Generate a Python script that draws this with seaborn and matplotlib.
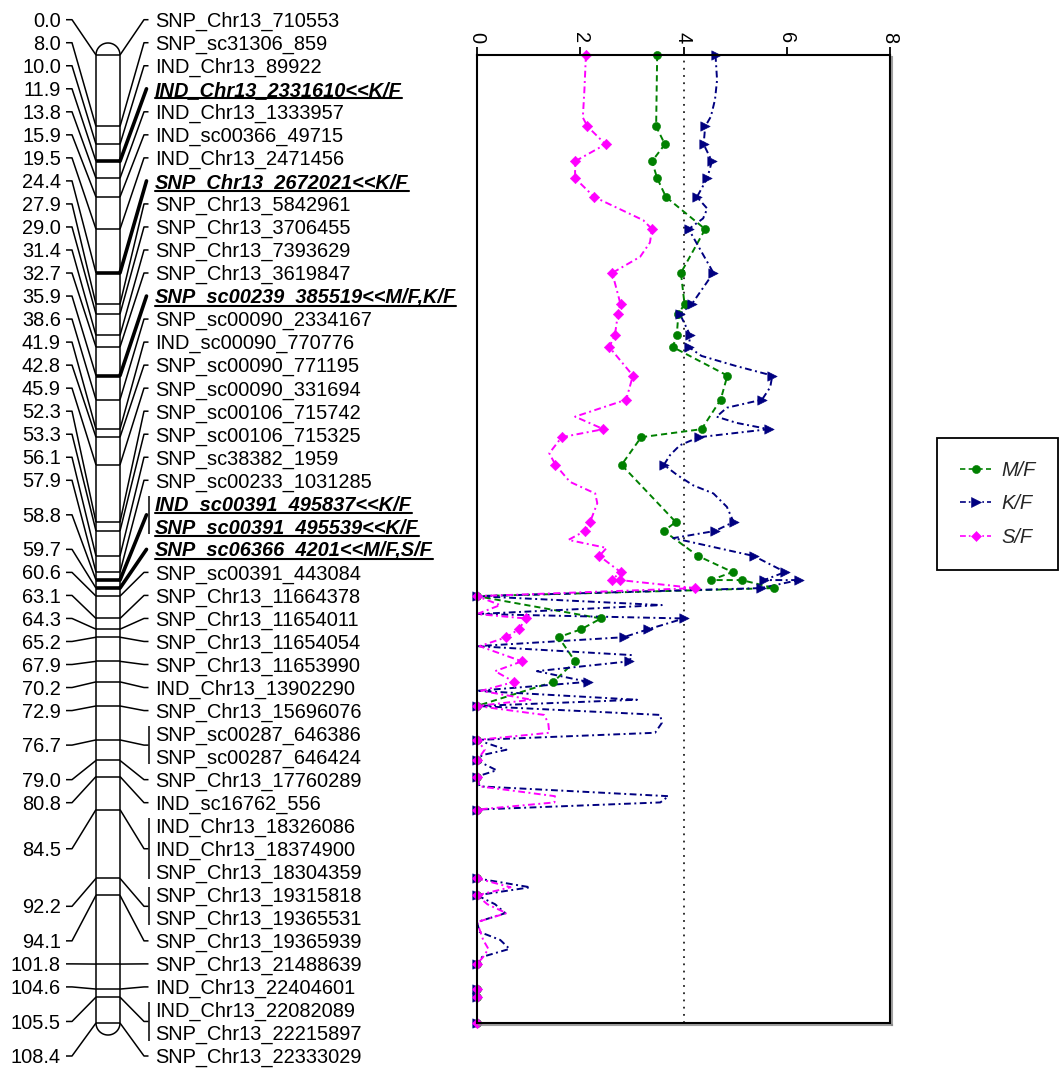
import numpy as np
import pandas as pd
import matplotlib
matplotlib.use("Agg")
import matplotlib.pyplot as plt
import seaborn as sns
from matplotlib.lines import Line2D
from matplotlib import patheffects as pe

# ---- linkage group: markers from top to bottom and their map positions (cM)
marker_names = [
    "SNP_Chr13_710553", "SNP_sc31306_859", "IND_Chr13_89922",
    "IND_Chr13_2331610<<K/F", "IND_Chr13_1333957", "IND_sc00366_49715",
    "IND_Chr13_2471456", "SNP_Chr13_2672021<<K/F", "SNP_Chr13_5842961",
    "SNP_Chr13_3706455", "SNP_Chr13_7393629", "SNP_Chr13_3619847",
    "SNP_sc00239_385519<<M/F,K/F", "SNP_sc00090_2334167", "IND_sc00090_770776",
    "SNP_sc00090_771195", "SNP_sc00090_331694", "SNP_sc00106_715742",
    "SNP_sc00106_715325", "SNP_sc38382_1959", "SNP_sc00233_1031285",
    "IND_sc00391_495837<<K/F", "SNP_sc00391_495539<<K/F",
    "SNP_sc06366_4201<<M/F,S/F", "SNP_sc00391_443084", "SNP_Chr13_11664378",
    "SNP_Chr13_11654011", "SNP_Chr13_11654054", "SNP_Chr13_11653990",
    "IND_Chr13_13902290", "SNP_Chr13_15696076", "SNP_sc00287_646386",
    "SNP_sc00287_646424", "SNP_Chr13_17760289", "IND_sc16762_556",
    "IND_Chr13_18326086", "IND_Chr13_18374900", "SNP_Chr13_18304359",
    "SNP_Chr13_19315818", "SNP_Chr13_19365531", "SNP_Chr13_19365939",
    "SNP_Chr13_21488639", "IND_Chr13_22404601", "IND_Chr13_22082089",
    "SNP_Chr13_22215897", "SNP_Chr13_22333029",
]
marker_cm = [
    0.0, 8.0, 10.0, 11.9, 13.8, 15.9, 19.5, 24.4, 27.9, 29.0, 31.4, 32.7,
    35.9, 38.6, 41.9, 42.8, 45.9, 52.3, 53.3, 56.1, 57.9, 58.8, 58.8, 59.7,
    60.6, 63.1, 64.3, 65.2, 67.9, 70.2, 72.9, 76.7, 76.7, 79.0, 80.8, 84.5,
    84.5, 84.5, 92.2, 92.2, 94.1, 101.8, 104.6, 105.5, 105.5, 108.4,
]

# ---- LOD profiles along the linkage group
mf_cm = [0.0, 8.0, 10.0, 11.9, 13.8, 15.9, 19.5, 24.4, 27.9, 29.0, 31.4, 32.7,
         35.9, 38.6, 41.9, 42.8, 45.9, 52.3, 53.3, 56.1, 57.9, 58.8, 58.8, 59.7,
         60.6, 63.1, 64.3, 65.2, 67.9, 70.2, 72.9, 76.7, 79.0, 80.8, 84.5,
         92.2, 94.1, 101.8, 104.6, 105.5, 108.4]
mf_lod = [3.49, 3.47, 3.64, 3.39, 3.49, 3.66, 4.42, 3.95, 4.02, 3.90, 3.87, 3.79,
          4.85, 4.72, 4.35, 3.18, 2.80, 3.85, 3.62, 4.28, 4.95, 4.53, 5.13, 5.76,
          0.0, 2.40, 2.02, 1.58, 1.90, 1.48, 0.0, 0.0, 0.0, 0.0, 0.0,
          0.0, 0.0, 0.0, 0.0, 0.0, 0.0]

kf_cm = [0.0, 2.8, 5.0, 6.9, 8.0, 10.0, 11.9, 13.8, 15.9, 17.2, 18.3, 19.5,
         24.4, 27.9, 29.0, 31.4, 32.7, 33.7, 34.8, 35.9, 37.2, 38.6, 39.5, 40.5,
         41.2, 41.9, 42.8, 43.7, 44.8, 45.9, 47.0, 48.2, 49.1, 50.6, 52.3, 53.3,
         54.1, 56.1, 57.9, 58.8, 58.8, 59.7, 60.6, 61.6, 62.6, 63.1, 64.3, 65.2,
         66.2, 67.2, 67.9, 69.0, 70.2, 71.2, 72.2, 72.9, 73.9, 74.8, 75.9, 76.7,
         77.8, 78.4, 79.0, 80.1, 80.8, 81.9, 83.0, 83.7, 84.5, 92.2, 93.2, 94.1,
         95.1, 96.1, 97.1, 98.2, 99.1, 100.1, 101.0, 101.8, 104.6, 105.5, 108.4]
kf_lod = [4.62, 4.65, 4.61, 4.53, 4.42, 4.39, 4.55, 4.46, 4.26, 4.46, 4.38, 4.10,
          4.58, 4.16, 3.93, 4.13, 4.10, 4.35, 5.00, 5.72, 5.68, 5.52, 4.84, 4.64,
          5.03, 5.65, 4.30, 3.93, 3.74, 3.62, 3.87, 4.19, 4.58, 4.84, 4.97, 4.61,
          3.80, 5.36, 5.97, 5.56, 6.23, 5.50, 0.0, 3.58, 0.0, 4.01, 3.32, 2.84,
          0.0, 3.00, 2.95, 1.16, 2.15, 0.0, 3.10, 0.0, 3.55, 3.58, 3.45, 0.0,
          0.57, 0.10, 0.0, 0.38, 0.0, 0.05, 3.71, 3.55, 0.0, 0.0, 1.03, 0.0,
          0.35, 0.55, 0.0, 0.05, 0.45, 0.63, 0.10, 0.0, 0.0, 0.0, 0.0]

sf_cm = [0.0, 4.0, 7.0, 8.0, 10.0, 11.9, 13.8, 15.9, 18.5, 19.5, 21.0, 22.6,
         24.4, 27.9, 29.0, 31.4, 32.7, 35.9, 38.6, 40.5, 41.9, 42.8, 44.6, 45.9,
         47.8, 49.1, 50.2, 52.3, 53.3, 54.3, 55.2, 56.1, 57.9, 58.8, 58.8, 59.7,
         60.6, 61.6, 62.6, 63.1, 64.3, 65.2, 66.2, 67.9, 69.0, 70.2, 71.2, 72.2,
         72.9, 73.9, 74.8, 75.9, 76.7, 77.8, 79.0, 80.8, 81.9, 83.0, 83.7, 84.5,
         92.2, 93.2, 94.1, 95.1, 96.1, 97.1, 99.1, 100.1, 101.0, 101.8, 104.6,
         105.5, 108.4]
sf_lod = [2.11, 2.08, 2.05, 2.14, 2.49, 1.90, 1.90, 2.27, 3.22, 3.39, 3.35, 3.16,
          2.62, 2.78, 2.73, 2.67, 2.56, 3.02, 2.89, 1.90, 2.45, 1.64, 1.40, 1.52,
          1.80, 2.29, 2.33, 2.19, 2.09, 1.77, 2.51, 2.37, 2.78, 2.61, 2.77, 4.23,
          0.0, 0.45, 0.0, 0.95, 0.81, 0.57, 0.05, 0.87, 0.35, 0.72, 0.08, 1.06,
          0.0, 1.30, 1.38, 1.40, 0.0, 0.15, 0.0, 0.0, 0.05, 1.51, 1.50, 0.0,
          0.0, 0.65, 0.0, 0.20, 0.57, 0.0, 0.12, 0.22, 0.12, 0.0, 0.0,
          0.0, 0.0]

series_names = ["M/F", "K/F", "S/F"]
lod_ticks = [0, 2, 4, 6, 8]
lod_threshold = 4.0

# ---- styling
sns.set_theme(style="white")
plt.rcParams["font.family"] = ["Liberation Sans", "DejaVu Sans"]
plt.rcParams["axes.unicode_minus"] = False
FS = 14.4
LW = 1.1

series_style = {
    "M/F": dict(color="#008000", ls=(0, (3.2, 2.0)), marker="o", s=34),
    "K/F": dict(color="#000080", ls=(0, (3.5, 1.8, 1, 1.8)), marker=">", s=46),
    "S/F": dict(color="#FF00FF", ls=(0, (3.5, 1.8, 1, 1.8)), marker="D", s=28),
}

W, H = 1062, 1068
fig = plt.figure(figsize=(W / 100, H / 100), dpi=100)

map_top_px, map_bot_px = 55, 1023
y_max = max(marker_cm)
px_per_cm = (map_bot_px - map_top_px) / y_max
ax_bottom = 1 - map_bot_px / H
ax_height = (map_bot_px - map_top_px) / H

ax_lod = fig.add_axes([477 / W, ax_bottom, (890 - 477) / W, ax_height])
ax_map = fig.add_axes([0, ax_bottom, 470 / W, ax_height])
ax_map.set_xlim(0, 470)
for ax in (ax_lod, ax_map):
    ax.set_ylim(y_max, 0)
ax_map.axis("off")

# ---- linkage map drawing
bar_l, bar_r = 96, 120
kw = dict(color="black", lw=LW, clip_on=False, solid_capstyle="butt")
ax_map.plot([bar_l, bar_l], [0, y_max], **kw)
ax_map.plot([bar_r, bar_r], [0, y_max], **kw)
t = np.linspace(0, np.pi, 80)
cx, rx = (bar_l + bar_r) / 2, (bar_r - bar_l) / 2
cap_h = 12 / px_per_cm
ax_map.plot(cx + rx * np.cos(t), -cap_h * np.sin(t), **kw)
ax_map.plot(cx + rx * np.cos(t), y_max + cap_h * np.sin(t), **kw)

is_qtl = ["<<" in n for n in marker_names]
n_slots = len(marker_names)
first_px, last_px = 19.7, 1056.0
slot_step = (last_px - first_px) / (n_slots - 1) / px_per_cm
slot_first = (first_px - map_top_px) / px_per_cm
slots = [slot_first + i * slot_step for i in range(n_slots)]
base_off = 7.1 / px_per_cm

groups = []
for i, cm in enumerate(marker_cm):
    if groups and groups[-1][0] == cm:
        groups[-1][1].append(i)
    else:
        groups.append((cm, [i]))

qtl_texts = []
for cm, idx in groups:
    qtl = any(is_qtl[i] for i in idx)
    ys = [slots[i] for i in idx]
    ym = float(np.mean(ys))
    # crossbar inside the chromosome
    ax_map.plot([bar_l, bar_r], [cm, cm], color="black",
                lw=2.6 if qtl else LW, clip_on=False, solid_capstyle="butt")
    # left: position label and connector
    ax_map.text(61, ym + base_off, f"{cm:.1f}", ha="right", va="baseline",
                fontsize=FS, color="black")
    ax_map.plot([66, 72, bar_l], [ym, ym, cm], **kw)
    # right: connector to marker name(s)
    if qtl:
        ax_map.plot([bar_r, 146.5], [cm, ym], color="black", lw=2.6,
                    clip_on=False, solid_capstyle="round")
    else:
        ax_map.plot([bar_r, 144, 148.5], [cm, ym, ym], **kw)
    if len(idx) > 1:
        ax_map.plot([148.5, 148.5], [ys[0] - 0.33 * slot_step,
                                     ys[-1] + 0.33 * slot_step], **kw)
    for i in idx:
        txt = ax_map.text(155, slots[i] + base_off, marker_names[i],
                          ha="left", va="baseline", fontsize=FS, color="black",
                          fontweight="bold" if is_qtl[i] else "normal",
                          fontstyle="italic" if is_qtl[i] else "normal")
        if is_qtl[i]:
            qtl_texts.append((txt, slots[i]))

# ---- LOD profiles
frames = []
for name, cms, lods in (("M/F", mf_cm, mf_lod), ("K/F", kf_cm, kf_lod),
                        ("S/F", sf_cm, sf_lod)):
    frames.append(pd.DataFrame({"series": name, "cm": cms, "lod": lods}))
df = pd.concat(frames, ignore_index=True)
df["is_marker"] = df["cm"].isin(marker_cm)

ax_lod.axvline(lod_threshold, color="#222222", ls=(0, (1, 3)), lw=1.3, zorder=1)

for k, name in enumerate(series_names):
    st = series_style[name]
    sub = df[df["series"] == name]
    sns.lineplot(data=sub, x="lod", y="cm", sort=False, estimator=None,
                 orient="y", color=st["color"], linestyle=st["ls"], lw=1.4,
                 ax=ax_lod, legend=False, clip_on=False, zorder=2 + k)
for k, name in enumerate(series_names):
    st = series_style[name]
    sub = df[(df["series"] == name) & df["is_marker"]]
    sns.scatterplot(data=sub, x="lod", y="cm", marker=st["marker"], s=st["s"],
                    color=st["color"], edgecolor=st["color"], linewidth=0.4,
                    ax=ax_lod, legend=False, clip_on=False, zorder=5 + k)

ax_lod.set_xlim(0, 8)
ax_lod.set_ylim(y_max, 0)
ax_lod.set_xticks(lod_ticks)
ax_lod.set_xticklabels([str(v) for v in lod_ticks])
ax_lod.set_yticks([])
ax_lod.set_xlabel("")
ax_lod.set_ylabel("")
ax_lod.xaxis.tick_top()
ax_lod.tick_params(axis="x", top=True, bottom=False, labeltop=True,
                   labelbottom=False, direction="out", length=5.8, width=1.3,
                   pad=3, labelsize=FS, labelrotation=-90, color="black",
                   labelcolor="black")
for side, sp in ax_lod.spines.items():
    sp.set_visible(True)
    sp.set_color("black")
    sp.set_linewidth(1.5)
    sp.set_zorder(10)
for side in ("right", "bottom"):
    ax_lod.spines[side].set_path_effects(
        [pe.SimpleLineShadow(offset=(1.5, -1.5), shadow_color="#888888",
                             alpha=0.8), pe.Normal()])

# ---- legend
handles = []
for name in series_names:
    st = series_style[name]
    handles.append(Line2D([], [], color=st["color"], ls=st["ls"], lw=1.2,
                          marker=st["marker"], markersize=np.sqrt(st["s"]),
                          markeredgewidth=0.4))
leg = fig.legend(handles, series_names, loc="upper left",
                 bbox_to_anchor=(937 / W, 1 - 438 / H), frameon=True,
                 fancybox=False, edgecolor="black", framealpha=1,
                 prop={"style": "italic", "size": FS}, handlelength=1.55,
                 borderpad=1.15, labelspacing=0.72, handletextpad=0.5,
                 borderaxespad=0)
leg.get_frame().set_linewidth(1.3)

# ---- underline QTL marker names
fig.canvas.draw()
renderer = fig.canvas.get_renderer()
inv = fig.transFigure.inverted()
for txt, sy in qtl_texts:
    bb = txt.get_window_extent(renderer)
    y_disp = ax_map.transData.transform((0, sy))[1] - 9.7
    (x0, y0), (x1, _) = inv.transform([(bb.x0, y_disp), (bb.x1, y_disp)])
    fig.add_artist(Line2D([x0, x1], [y0, y0], transform=fig.transFigure,
                          color="black", lw=1.5))

fig.savefig("out.png", dpi=100)
